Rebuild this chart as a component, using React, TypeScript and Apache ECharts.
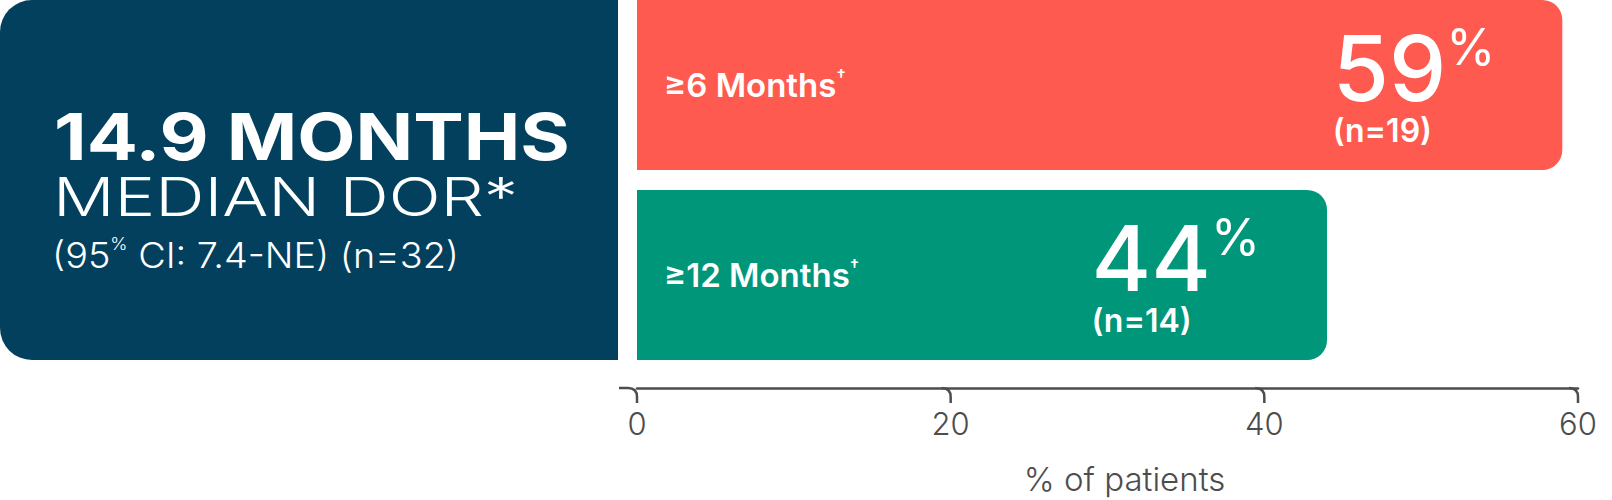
import React, { useEffect, useRef } from 'react';
import * as echarts from 'echarts';

const categories: string[] = ['≥6 Months', '≥12 Months'];
const percentValues: number[] = [59, 44];
const patientCounts: number[] = [19, 14];
const barColors: string[] = ['#FF5A4F', '#00967A'];
const xTicks: number[] = [0, 20, 40, 60];

const FONT = 'Inter';
const NAVY = '#03405E';
const AXIS_GREY = '#4d4d4d';
const AXIS_OFFSET = 18;

const DorChart: React.FC = () => {
  const chartRef = useRef<HTMLDivElement>(null);

  useEffect(() => {
    if (!chartRef.current) return;

    const chart = echarts.init(chartRef.current, undefined, { renderer: 'svg' });

    const options: echarts.EChartsOption = {
      animation: false,
      grid: { left: 637, right: 34, top: -10, height: 380, outerBoundsMode: 'none' } as any,
      xAxis: {
        type: 'value',
        min: xTicks[0],
        max: xTicks[xTicks.length - 1],
        interval: xTicks[1] - xTicks[0],
        offset: AXIS_OFFSET,
        splitLine: { show: false },
        axisLine: { show: true, lineStyle: { color: AXIS_GREY, width: 2.5 } },
        axisTick: { show: false },
        axisLabel: {
          fontFamily: FONT,
          fontSize: 31,
          fontWeight: 300,
          color: AXIS_GREY,
          margin: 20
        },
        name: '% of patients',
        nameLocation: 'middle',
        nameGap: 74,
        nameTextStyle: {
          fontFamily: FONT,
          fontSize: 33,
          fontWeight: 300,
          color: AXIS_GREY,
          padding: [0, 0, 0, 34]
        }
      },
      yAxis: {
        type: 'category',
        inverse: true,
        data: categories,
        z: 10,
        axisLine: { show: false },
        axisTick: { show: false },
        axisLabel: {
          inside: true,
          margin: 27,
          formatter: (v: string) => `{a|${v}}{d|†}`,
          rich: {
            a: { fontFamily: FONT, fontSize: 33, fontWeight: 600, color: '#fff' },
            d: { fontFamily: FONT, fontSize: 17, fontWeight: 600, color: '#fff', verticalAlign: 'top', lineHeight: 36 }
          }
        }
      },
      series: [
        {
          type: 'bar',
          barWidth: 170,
          data: percentValues.map((v, i) => ({
            value: v,
            itemStyle: { color: barColors[i], borderRadius: [0, 20, 20, 0] }
          })),
          label: {
            show: true,
            position: 'insideRight',
            distance: 67,
            offset: [0, -1],
            formatter: (p: any) =>
              `{v|${p.value}}{p|%}\n{n|(n=${patientCounts[p.dataIndex]})}`,
            rich: {
              v: { fontFamily: FONT, fontSize: 91, fontWeight: 500, color: '#fff', lineHeight: 92, align: 'left' },
              p: { fontFamily: FONT, fontSize: 50, fontWeight: 400, color: '#fff', verticalAlign: 'top', lineHeight: 52, align: 'left' },
              n: { fontFamily: FONT, fontSize: 32, fontWeight: 600, color: '#fff', lineHeight: 32, align: 'left' }
            }
          }
        },
        {
          // rounded axis ticks, placed through the x scale
          type: 'custom',
          clip: false,
          silent: true,
          data: xTicks.map((t) => [t]),
          encode: { x: 0 },
          renderItem: (params: any, api: any) => {
            const t = api.value(0);
            const x = api.coord([t, 0])[0];
            const cs = params.coordSys;
            const y = cs.y + cs.height + AXIS_OFFSET;
            const r = 9;
            const start = t === xTicks[0] ? x - 18 : x - r;
            return {
              type: 'path',
              shape: {
                pathData: `M${start} ${y}L${x - r} ${y}Q${x} ${y} ${x} ${y + r}L${x} ${y + 15}`
              },
              style: { fill: 'none', stroke: AXIS_GREY, lineWidth: 2.5 }
            };
          }
        } as any
      ],
      graphic: [
        {
          type: 'rect',
          left: 0,
          top: 0,
          shape: { width: 618, height: 360, r: [32, 0, 0, 32] },
          style: { fill: NAVY },
          z: -1
        },
        {
          type: 'text',
          x: 54,
          y: 137,
          scaleX: 1.165,
          style: {
            text: '14.9 MONTHS',
            fill: '#fff',
            font: `700 65px ${FONT}`,
            verticalAlign: 'middle'
          }
        },
        {
          type: 'text',
          x: 53,
          y: 197,
          scaleX: 1.29,
          style: {
            text: 'MEDIAN DOR*',
            fill: '#fff',
            font: `300 53px ${FONT}`,
            verticalAlign: 'middle'
          }
        },
        {
          type: 'text',
          x: 52,
          y: 256,
          scaleX: 1.08,
          style: {
            text: '{a|(95}{s|%}{a| CI: 7.4-NE) (n=32)}',
            verticalAlign: 'middle',
            rich: {
              a: { fill: '#fff', fontFamily: FONT, fontSize: 35, fontWeight: 300, lineHeight: 42 },
              s: { fill: '#fff', fontFamily: FONT, fontSize: 17, fontWeight: 300, verticalAlign: 'top', lineHeight: 30 }
            }
          } as any
        }
      ]
    };

    chart.setOption(options);

    return () => {
      chart.dispose();
    };
  }, []);

  return <div ref={chartRef} style={{ width: '1612px', height: '500px' }} />;
};

const App: React.FC = () => (
  <div style={{ position: 'fixed', left: 0, top: 0, background: '#fff' }}>
    <DorChart />
  </div>
);

export default App;
